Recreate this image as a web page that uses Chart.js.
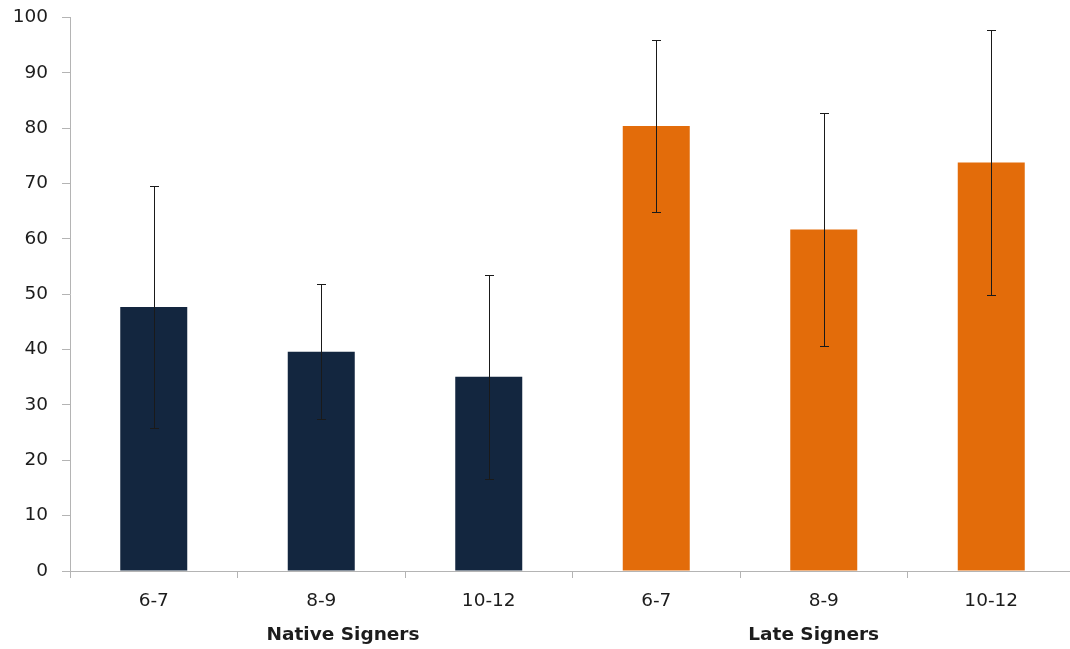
<!DOCTYPE html>
<html>
<head>
<meta charset="utf-8">
<script src="https://cdn.jsdelivr.net/npm/chart.js@4/dist/chart.umd.min.js"></script>
<style>
  html, body { margin: 0; padding: 0; background: #fff; overflow: hidden; }
  #wrap { width: 1075px; height: 649px; }
</style>
</head>
<body>
<div id="wrap"><canvas id="c" width="1075" height="649"></canvas></div>
<script>
// Age bands for each bar, grouped by signer type
const categories = ['6-7', '8-9', '10-12', '6-7', '8-9', '10-12'];
// Mean score per bar
const meanScores = [47.7, 39.6, 35.1, 80.4, 61.7, 73.8];
// Standard deviation per bar (drawn as symmetric error bars)
const sdScores = [21.8, 12.2, 18.4, 15.5, 21.0, 23.9];
// Signer groups and which group each bar belongs to
const groupNames = ['Native Signers', 'Late Signers'];
const groupOfBar = [0, 0, 0, 1, 1, 1];
// Where each group caption sits along the category axis (index units)
const groupLabelPos = [1.13, 3.94];
// Value axis ticks
const yTickValues = [0, 10, 20, 30, 40, 50, 60, 70, 80, 90, 100];

const groupColors = ['#13263f', '#e36c0a'];
const axisGrey = '#b4b4b4';
const textColor = '#1c1c1c';
const fontFamily = '"DejaVu Sans", sans-serif';

const errorBarPlugin = {
  id: 'errorBars',
  afterDatasetsDraw(chart) {
    const { ctx, scales: { x, y } } = chart;
    ctx.save();
    ctx.strokeStyle = '#1a1a1a';
    ctx.lineWidth = 1;
    meanScores.forEach((m, i) => {
      const px = Math.round(x.getPixelForValue(i)) + 0.5;
      const top = Math.round(y.getPixelForValue(m + sdScores[i])) + 0.5;
      const bot = Math.round(y.getPixelForValue(m - sdScores[i])) + 0.5;
      ctx.beginPath();
      ctx.moveTo(px, top); ctx.lineTo(px, bot);
      ctx.moveTo(px - 4.5, top); ctx.lineTo(px + 4.5, top);
      ctx.moveTo(px - 4.5, bot); ctx.lineTo(px + 4.5, bot);
      ctx.stroke();
    });
    ctx.restore();
  }
};

const groupLabelPlugin = {
  id: 'groupLabels',
  afterDraw(chart) {
    const { ctx, scales: { x }, chartArea } = chart;
    ctx.save();
    ctx.fillStyle = textColor;
    ctx.font = 'bold 18.5px ' + fontFamily;
    ctx.textAlign = 'center';
    ctx.textBaseline = 'middle';
    groupNames.forEach((name, g) => {
      ctx.fillText(name, x.getPixelForValue(groupLabelPos[g]), chartArea.bottom + 64);
    });
    ctx.restore();
  }
};

new Chart(document.getElementById('c'), {
  type: 'bar',
  data: {
    labels: categories,
    datasets: [{
      data: meanScores,
      backgroundColor: groupOfBar.map(g => groupColors[g]),
      borderWidth: 0,
      categoryPercentage: 1.0,
      barPercentage: 0.4
    }]
  },
  options: {
    responsive: false,
    animation: false,
    layout: { padding: { top: 17.5, left: 0, right: 0, bottom: 0 } },
    plugins: { legend: { display: false }, tooltip: { enabled: false } },
    scales: {
      x: {
        grid: {
          display: true,
          offset: true,
          drawOnChartArea: false,
          drawTicks: true,
          tickLength: 7,
          color: axisGrey
        },
        border: { display: true, color: axisGrey, width: 1 },
        ticks: {
          color: textColor,
          font: { family: fontFamily, size: 18.5 },
          padding: 12,
          maxRotation: 0,
          autoSkip: false
        },
        afterFit(scale) {
          scale.height = 78;
          scale.paddingLeft = 0;
          scale.paddingRight = 0;
        }
      },
      y: {
        min: 0,
        max: 100,
        afterBuildTicks(scale) { scale.ticks = yTickValues.map(v => ({ value: v })); },
        grid: {
          display: true,
          drawOnChartArea: false,
          drawTicks: true,
          tickLength: 8,
          color: axisGrey
        },
        border: { display: true, color: axisGrey, width: 1 },
        ticks: {
          color: textColor,
          font: { family: fontFamily, size: 18.5 },
          padding: 14
        },
        afterFit(scale) {
          scale.width = 70;
          scale.paddingTop = 0;
          scale.paddingBottom = 0;
        }
      }
    }
  },
  plugins: [errorBarPlugin, groupLabelPlugin]
});
</script>
</body>
</html>
